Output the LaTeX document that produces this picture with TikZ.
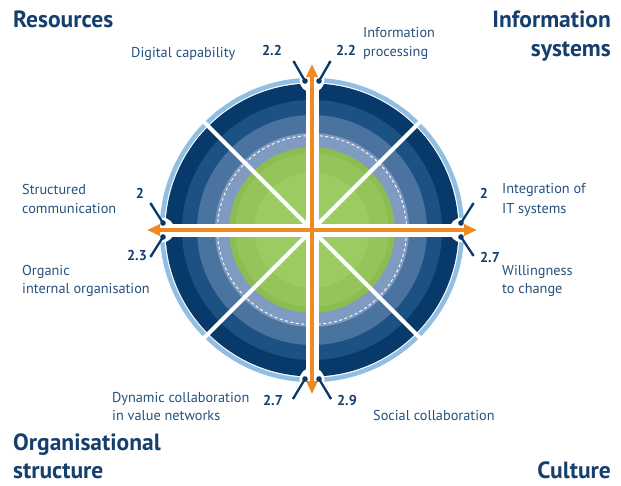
\documentclass[tikz,border=0pt]{standalone}
\usepackage{fontspec}
\setmainfont{PT Sans}
\usetikzlibrary{arrows.meta}
\definecolor{navyring}{HTML}{073A6A}
\definecolor{darkring}{HTML}{1C5184}
\definecolor{midring}{HTML}{4B73A0}
\definecolor{slatering}{HTML}{7F9BC1}
\definecolor{lightring}{HTML}{90BFE3}
\definecolor{greenA}{HTML}{8CBC52}
\definecolor{greenB}{HTML}{94C45A}
\definecolor{greenC}{HTML}{9CCA63}
\definecolor{axisorange}{HTML}{EF8A23}
\definecolor{labelblue}{HTML}{25527F}
\definecolor{headblue}{HTML}{153F6C}
\tikzset{
  heading/.style={inner sep=0pt, text=headblue, font=\fontsize{23.5}{29}\selectfont\bfseries},
  label/.style={inner sep=0pt, text=labelblue, font=\fontsize{14.3}{19}\selectfont},
  score/.style={inner sep=0pt, text=headblue, font=\fontsize{14.3}{16}\selectfont\bfseries},
  needle/.style={draw=navyring, line width=2.3pt, line cap=round},
  axisarrow/.style={draw=axisorange, line width=4.5pt, {Triangle[width=11pt,length=13pt]}-{Triangle[width=11pt,length=13pt]}},
  whiteband/.style={draw=white, line width=13pt},
  diag/.style={draw=white, line width=4pt}
}
\begin{document}
\begin{tikzpicture}[x=1pt,y=-1pt]
\useasboundingbox[fill=white] (0,0) rectangle (621,485);
\coordinate (c) at (312,230);
% rings
\draw[lightring, line width=4.5pt] (c) circle (150pt);
\fill[navyring] (c) circle (146.5pt);
\fill[darkring] (c) circle (130pt);
\fill[midring] (c) circle (115pt);
\fill[slatering] (c) circle (97pt);
\fill[greenA] (c) circle (83pt);
\fill[greenB] (c) circle (77pt);
\fill[greenC] (c) circle (58pt);
\draw[white, line width=0.9pt, dash pattern=on 3pt off 2.5pt] (c) circle (94.5pt);
% diagonals
\draw[diag] ([shift={(-111,-111)}]c) -- ([shift={(111,111)}]c);
\draw[diag] ([shift={(-111,111)}]c) -- ([shift={(111,-111)}]c);
% axis white bands and notches
\coordinate (nT) at (312,80);
\coordinate (nB) at (312,380);
\coordinate (nL) at (162,230);
\coordinate (nR) at (462,230);
\draw[whiteband] (nL) -- (nR);
\draw[whiteband] (nT) -- (nB);
\foreach \n in {nT,nB,nL,nR} \fill[white] (\n) circle (12.5pt);
% orange axes
\coordinate (aT) at (312,64);
\coordinate (aB) at (312,394);
\coordinate (aL) at (147,230);
\coordinate (aR) at (477,230);
\draw[axisarrow] (aL) -- (aR);
\draw[axisarrow] (aB) -- (aT);
% needles
\coordinate (t1i) at (305,81);   \coordinate (t1o) at (294,62);
\coordinate (t2i) at (319,81);   \coordinate (t2o) at (330,62);
\coordinate (b1i) at (305,379);  \coordinate (b1o) at (293.5,398);
\coordinate (b2i) at (319,379);  \coordinate (b2o) at (330.5,398);
\coordinate (l1i) at (163,223);  \coordinate (l1o) at (151,204);
\coordinate (l2i) at (163,237);  \coordinate (l2o) at (151,256);
\coordinate (r1i) at (461,223);  \coordinate (r1o) at (473,204);
\coordinate (r2i) at (461,237);  \coordinate (r2o) at (473,255);
\foreach \p in {t1,t2,b1,b2,l1,l2,r1,r2}{
  \draw[needle] (\p i) -- (\p o);
  \fill[navyring] (\p i) circle (2.8pt);
  \fill[navyring] (\p o) circle (1.6pt);
}
% headings
\node[heading, anchor=base west] (hres) at (13,27) {Resources};
\node[heading, anchor=base east] (hinf1) at (611,27) {Information};
\node[heading, anchor=base east] (hinf2) at (611,56) {systems};
\node[heading, anchor=base west] (horg1) at (13,450) {Organisational};
\node[heading, anchor=base west] (horg2) at (13,478) {structure};
\node[heading, anchor=base east] (hcul) at (611,478) {Culture};
% labels
\node[label, anchor=base west] (ldig) at (131,57) {Digital capability};
\node[label, anchor=base west] (linf1) at (363,37) {Information};
\node[label, anchor=base west] (linf2) at (363,56) {processing};
\node[label, anchor=base west] (lstr1) at (22,194) {Structured};
\node[label, anchor=base west] (lstr2) at (22,213) {communication};
\node[label, anchor=base west] (lorg1) at (22,275) {Organic};
\node[label, anchor=base west] (lorg2) at (22,293) {internal organisation};
\node[label, anchor=base west] (lint1) at (502,193) {Integration of};
\node[label, anchor=base west] (lint2) at (502,213) {IT systems};
\node[label, anchor=base west] (lwil1) at (502,275) {Willingness};
\node[label, anchor=base west] (lwil2) at (502,293) {to change};
\node[label, anchor=base west] (ldyn1) at (112,402) {Dynamic collaboration};
\node[label, anchor=base west] (ldyn2) at (112,420) {in value networks};
\node[label, anchor=base west] (lsoc) at (373,420) {Social collaboration};
% scores
\node[score, anchor=base] (s1) at (272,55) {2.2};
\node[score, anchor=base] (s2) at (346,55) {2.2};
\node[score, anchor=base] (s3) at (140,198) {2};
\node[score, anchor=base] (s4) at (137,260) {2.3};
\node[score, anchor=base] (s5) at (484,198) {2};
\node[score, anchor=base] (s6) at (490,262) {2.7};
\node[score, anchor=base] (s7) at (273,405) {2.7};
\node[score, anchor=base] (s8) at (347,405) {2.9};
\end{tikzpicture}
\end{document}
